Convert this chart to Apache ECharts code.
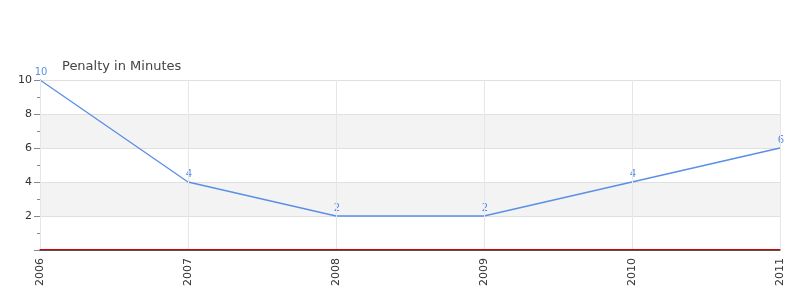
<!DOCTYPE html>
<html><head><meta charset="utf-8">
<script src="https://cdn.jsdelivr.net/npm/echarts@6/dist/echarts.min.js"></script>
<style>html,body{margin:0;padding:0;background:#fff}#c{width:800px;height:300px}</style>
</head><body><div id="c"></div>
<script>
const categories = ['2006','2007','2008','2009','2010','2011'];
const penalty = [10, 4, 2, 2, 4, 6];
const chartTitle = 'Penalty in Minutes';

const chart = echarts.init(document.getElementById('c'));
chart.setOption({
  animation: false,
  textStyle: { fontFamily: 'DejaVu Sans' },
  title: { text: chartTitle, left: 57, top: 55, textStyle: { fontFamily: 'DejaVu Sans', fontSize: 13, fontWeight: 'normal', color: '#444' } },
  grid: { left: 40, right: 20, top: 80, bottom: 50 },
  xAxis: [{
    type: 'category', data: categories, boundaryGap: false, z: 4,
    axisLine: { lineStyle: { color: '#555', width: 1 } },
    axisTick: { show: false },
    axisLabel: { rotate: 90, color: '#333', fontFamily: 'DejaVu Sans', fontSize: 11, margin: 8, interval: 0 },
    splitLine: { show: true, lineStyle: { color: '#e6e6e6' } }
  }, {
    type: 'category', data: categories, boundaryGap: false, position: 'bottom', offset: -1, z: 5,
    axisLine: { lineStyle: { color: '#d40000', width: 1 } },
    axisTick: { show: false }, axisLabel: { show: false }, splitLine: { show: false }
  }],
  yAxis: {
    type: 'value', min: 0, max: 10, interval: 2,
    axisLine: { show: true, lineStyle: { color: '#888' } },
    axisTick: { show: true, length: 6, lineStyle: { color: '#888' } },
    minorTick: { show: true, splitNumber: 2, length: 3, lineStyle: { color: '#888' } },
    axisLabel: { color: '#333', fontFamily: 'DejaVu Sans', fontSize: 11, margin: 8, formatter: v => v === 0 ? '' : v },
    splitLine: { show: true, lineStyle: { color: '#e0e0e0' } },
    splitArea: { show: true, areaStyle: { color: ['#ffffff', '#f3f3f3'] } }
  },
  series: [{
    type: 'line', data: penalty, xAxisIndex: 0, showSymbol: true, symbol: 'circle', symbolSize: 6,
    lineStyle: { color: '#5b8ee6', width: 1.3 },
    itemStyle: { color: 'rgba(0,0,0,0)', borderWidth: 0 },
    label: { show: true, position: 'top', distance: 0, color: '#5b8ee6', fontFamily: 'DejaVu Sans', fontSize: 10, offset: [1, 0] }
  }]
});
</script></body></html>
